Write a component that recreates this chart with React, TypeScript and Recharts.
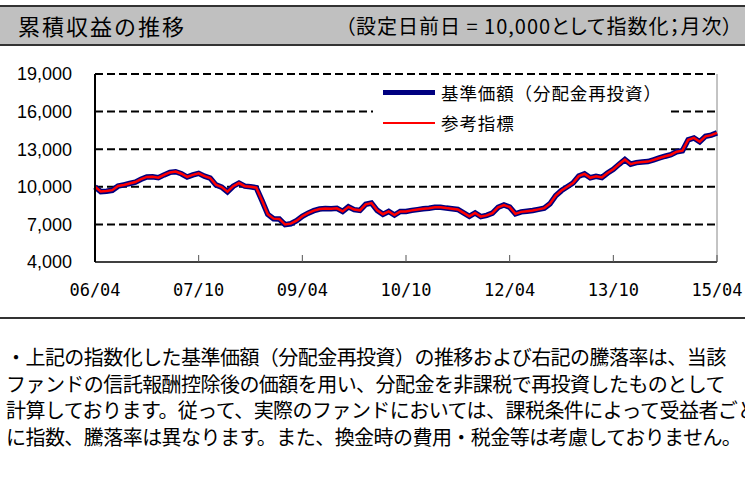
import { LineChart, Line, XAxis, YAxis, ReferenceLine, Legend } from "recharts";

const JP = '"Noto Sans CJK JP", "Noto Sans", sans-serif';

// 月次 06/04 〜 15/04
const months = [
  "06/04", "06/05", "06/06", "06/07", "06/08", "06/09", "06/10", "06/11", "06/12",
  "07/01", "07/02", "07/03", "07/04", "07/05", "07/06", "07/07", "07/08", "07/09", "07/10", "07/11", "07/12",
  "08/01", "08/02", "08/03", "08/04", "08/05", "08/06", "08/07", "08/08", "08/09", "08/10", "08/11", "08/12",
  "09/01", "09/02", "09/03", "09/04", "09/05", "09/06", "09/07", "09/08", "09/09", "09/10", "09/11", "09/12",
  "10/01", "10/02", "10/03", "10/04", "10/05", "10/06", "10/07", "10/08", "10/09", "10/10", "10/11", "10/12",
  "11/01", "11/02", "11/03", "11/04", "11/05", "11/06", "11/07", "11/08", "11/09", "11/10", "11/11", "11/12",
  "12/01", "12/02", "12/03", "12/04", "12/05", "12/06", "12/07", "12/08", "12/09", "12/10", "12/11", "12/12",
  "13/01", "13/02", "13/03", "13/04", "13/05", "13/06", "13/07", "13/08", "13/09", "13/10", "13/11", "13/12",
  "14/01", "14/02", "14/03", "14/04", "14/05", "14/06", "14/07", "14/08", "14/09", "14/10", "14/11", "14/12",
  "15/01", "15/02", "15/03", "15/04",
];

// 基準価額（分配金再投資）
const fundValues = [
  10000, 9620, 9650, 9720, 10050, 10150, 10260, 10370, 10600,
  10780, 10800, 10730, 10950, 11150, 11200, 11040, 10780, 10950, 11070, 10850, 10700,
  10150, 9980, 9600, 10050, 10300, 10050, 10000, 9930, 8900, 7800, 7450, 7430,
  6980, 7050, 7300, 7650, 7900, 8100, 8230, 8270, 8250, 8280, 8030, 8400,
  8180, 8120, 8600, 8700, 8120, 7800, 8030, 7750, 8030, 8030, 8120, 8180,
  8250, 8290, 8370, 8370, 8300, 8250, 8190, 7920, 7650, 7920, 7620, 7720,
  7900, 8370, 8550, 8380, 7840, 8000, 8050, 8110, 8200, 8300, 8650, 9300,
  9700, 10000, 10300, 10850, 11030, 10720, 10840, 10740, 11100, 11400, 11800, 12170,
  11800, 11930, 11980, 12010, 12150, 12300, 12440, 12560, 12800, 12880, 13750, 13900,
  13600, 14030, 14120, 14300,
];

// 参考指標
const benchmarkValues = [
  10000, 9630, 9660, 9730, 10060, 10150, 10260, 10380, 10610,
  10790, 10800, 10730, 10960, 11150, 11210, 11040, 10790, 10950, 11070, 10850, 10700,
  10160, 9980, 9610, 10050, 10300, 10050, 10000, 9930, 8900, 7810, 7460, 7440,
  6990, 7060, 7300, 7650, 7900, 8100, 8230, 8270, 8250, 8280, 8040, 8400,
  8180, 8120, 8600, 8700, 8120, 7810, 8030, 7750, 8030, 8030, 8120, 8180,
  8250, 8290, 8370, 8370, 8300, 8250, 8190, 7920, 7650, 7920, 7620, 7720,
  7900, 8370, 8550, 8380, 7840, 8000, 8050, 8110, 8200, 8300, 8650, 9300,
  9700, 10000, 10300, 10850, 11030, 10720, 10840, 10740, 11100, 11400, 11800, 12170,
  11800, 11930, 11980, 12010, 12150, 12300, 12440, 12560, 12800, 12880, 13750, 13900,
  13600, 14030, 14120, 14300,
];

const yTicks = [4000, 7000, 10000, 13000, 16000, 19000];
const gridValues = [7000, 10000, 13000, 16000, 19000];
const xTicks = ["06/04", "07/10", "09/04", "10/10", "12/04", "13/10", "15/04"];

const noteLines = [
  "・上記の指数化した基準価額（分配金再投資）の推移および右記の騰落率は、当該",
  "ファンドの信託報酬控除後の価額を用い、分配金を非課税で再投資したものとして",
  "計算しております。従って、実際のファンドにおいては、課税条件によって受益者ごと",
  "に指数、騰落率は異なります。また、換金時の費用・税金等は考慮しておりません。",
];

const chartData = months.map((m, i) => ({
  month: m,
  fund: fundValues[i],
  bench: benchmarkValues[i],
}));

const LegendBox = () => (
  <div style={{ position: "relative", width: 295, height: 58, background: "#fff", fontFamily: JP, fontSize: 17.5, color: "#000" }}>
    <div style={{ position: "absolute", left: 10, top: 10, width: 52, height: 5, background: "#000080" }} />
    <div style={{ position: "absolute", left: 68, top: 0, lineHeight: "26px", whiteSpace: "nowrap", letterSpacing: 0.9 }}>
      基準価額（分配金再投資）
    </div>
    <div style={{ position: "absolute", left: 10, top: 42, width: 52, height: 2, background: "#ff0000" }} />
    <div style={{ position: "absolute", left: 68, top: 30, lineHeight: "26px", whiteSpace: "nowrap", letterSpacing: 0.9 }}>
      参考指標
    </div>
  </div>
);

export default function App() {
  return (
    <div style={{ position: "absolute", left: 0, top: 0, width: 745, height: 479, background: "#fff", overflow: "hidden" }}>
      {/* 見出し */}
      <div
        style={{
          position: "absolute", left: 0, top: 5, width: 745, height: 37,
          background: "#c0c0c0", borderTop: "2px solid #333", borderBottom: "2px solid #333",
          fontFamily: JP, color: "#000",
        }}
      >
        <span style={{ position: "absolute", left: 18, top: 0, lineHeight: "37px", fontSize: 22, letterSpacing: 2 }}>
          累積収益の推移
        </span>
        <span
          style={{
            position: "absolute", left: 345, top: 0, lineHeight: "37px", fontSize: 20,
            letterSpacing: 1, whiteSpace: "nowrap", fontFeatureSettings: '"palt"',
          }}
        >
          （設定日前日 = 10,000として指数化；月次）
        </span>
      </div>

      <div style={{ position: "absolute", left: 0, top: 0 }}>
        <LineChart width={745} height={310} data={chartData} margin={{ top: 74, right: 28, bottom: 18, left: 0 }}>
          <XAxis
            dataKey="month"
            ticks={xTicks}
            interval={0}
            height={30}
            axisLine={{ stroke: "#000", strokeWidth: 1.5 }}
            tickLine={{ stroke: "#555", strokeWidth: 1 }}
            tickSize={-7}
            tickMargin={29}
            tick={{ fill: "#000", fontSize: 17, fontFamily: '"DejaVu Sans Mono", monospace' }}
          />
          <YAxis
            domain={[4000, 19000]}
            ticks={yTicks}
            width={95}
            axisLine={{ stroke: "#000", strokeWidth: 2 }}
            tickLine={false}
            tickSize={0}
            tickMargin={23}
            tickFormatter={(v: number) => v.toLocaleString("en-US")}
            tick={{ fill: "#000", fontSize: 18, fontFamily: '"Liberation Sans", Arial, sans-serif' }}
          />
          {gridValues.map((v) => (
            <ReferenceLine key={v} y={v} stroke="#000" strokeWidth={2} strokeDasharray="8 4" />
          ))}
          <ReferenceLine x="15/04" stroke="#888" strokeWidth={1} />
          <Legend
            layout="vertical"
            align="center"
            verticalAlign="middle"
            content={() => <LegendBox />}
            wrapperStyle={{ position: "absolute", left: 373, top: 80, width: 295, height: 58 }}
          />
          <Line
            type="linear"
            dataKey="fund"
            name="基準価額（分配金再投資）"
            stroke="#000080"
            strokeWidth={5.5}
            dot={false}
            isAnimationActive={false}
          />
          <Line
            type="linear"
            dataKey="bench"
            name="参考指標"
            stroke="#ff0000"
            strokeWidth={2.5}
            dot={false}
            isAnimationActive={false}
          />
        </LineChart>
      </div>

      {/* 区切り線 */}
      <div style={{ position: "absolute", left: 0, top: 317, width: 745, height: 2, background: "#333" }} />

      {/* 注記 */}
      <div style={{ position: "absolute", left: 6, top: 344, fontFamily: JP, fontSize: 20, letterSpacing: -0.55, color: "#000" }}>
        {noteLines.map((t) => (
          <div key={t} style={{ whiteSpace: "nowrap", lineHeight: "26.7px" }}>{t}</div>
        ))}
      </div>
    </div>
  );
}
